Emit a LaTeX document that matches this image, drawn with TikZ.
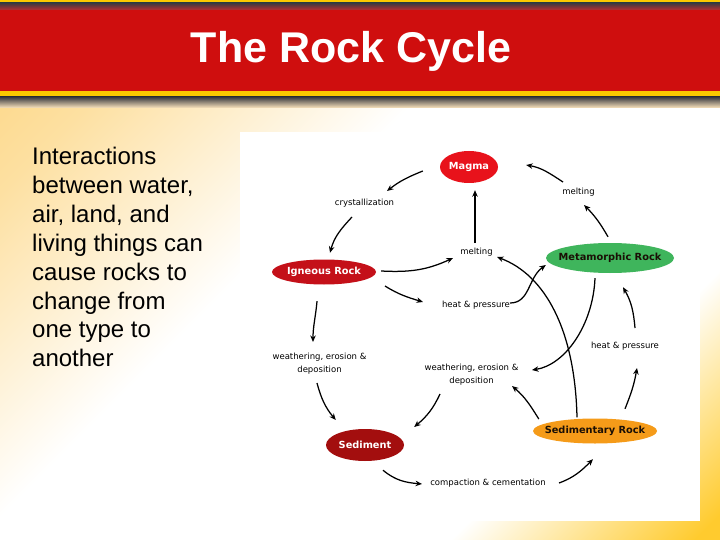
\documentclass[tikz,border=0pt]{standalone}
\usepackage{fontspec}
\setmainfont{Liberation Sans}
\newfontfamily\dvs{DejaVu Sans}
\usetikzlibrary{shapes.geometric,arrows.meta}
\definecolor{hdrred}{HTML}{CF0E0E}
\definecolor{hdrylw}{HTML}{FCC900}
\definecolor{hdrgray}{HTML}{3A3A40}
\definecolor{peach}{HTML}{FDE6BE}
\definecolor{bgtl}{HTML}{FCCB62}
\definecolor{bgbr}{HTML}{FFCB2E}
\definecolor{magmared}{HTML}{E8121B}
\definecolor{ignred}{HTML}{C41019}
\definecolor{metgreen}{HTML}{3FB55C}
\definecolor{sedred}{HTML}{A30E0E}
\definecolor{sryorange}{HTML}{F59B19}
\definecolor{darktxt}{HTML}{1A0F05}
\pgfdeclareverticalshading{bgshade}{100bp}{color(0bp)=(bgbr); color(16bp)=(bgbr); color(31bp)=(white); color(60bp)=(white); color(80bp)=(bgtl!60!white); color(100bp)=(bgtl)}
\begin{document}
\begin{tikzpicture}[x=1pt,y=1pt,
  arr/.style={line width=1.25pt,-{Stealth[length=6.5pt,width=5.5pt]}},
  rock/.style={ellipse,inner sep=0pt,font=\dvs\bfseries\fontsize{9.8}{11}\selectfont},
  lbl/.style={inner sep=0pt,font=\dvs\fontsize{8.5}{13}\selectfont,align=center},
  bodytxt/.style={anchor=base west,inner sep=0pt,font=\fontsize{24}{28}\selectfont}]
\useasboundingbox (0,0) rectangle (720,-540);
% background
\shade[shading=bgshade,shading angle=45] (0,-100) rectangle (720,-540);
% header
\fill[hdrylw] (0,0) rectangle (720,-3);
\shade[top color=hdrgray,bottom color=hdrred!70!gray] (0,-3) rectangle (720,-10);
\fill[hdrred] (0,-10) rectangle (720,-91);
\fill[hdrylw] (0,-91) rectangle (720,-97);
\shade[top color=hdrgray,bottom color=peach] (0,-97) rectangle (720,-108);
\node[font=\bfseries\fontsize{43}{50}\selectfont,text=white,anchor=base,inner sep=0pt] (title) at (351,-63) {The Rock Cycle};
% left text
\foreach \t [count=\i from 0] in {Interactions,{between water,},{air, land, and},living things can,cause rocks to,change from,one type to,another}
  \node[bodytxt] (txt\i) at (32,{-165-28.8*\i}) {\t};
% panel
\fill[white] (240,-132) rectangle (700,-521);
% rock nodes
\node[rock,fill=magmared,text=white,minimum width=58pt,minimum height=32pt] (mag) at (469,-167) {\makebox[0pt]{Magma}};
\node[rock,fill=ignred,text=white,minimum width=104pt,minimum height=25pt] (ign) at (324,-272) {\makebox[0pt]{Igneous Rock}};
\node[rock,fill=metgreen,text=darktxt,minimum width=128pt,minimum height=30pt] (met) at (610,-258) {\makebox[0pt]{Metamorphic Rock}};
\node[rock,fill=sedred,text=white,minimum width=78pt,minimum height=32pt] (sed) at (365,-445) {\makebox[0pt]{Sediment}};
\node[rock,fill=sryorange,text=darktxt,minimum width=124pt,minimum height=25pt] (sry) at (595,-431) {\makebox[0pt]{Sedimentary Rock}};
% process labels
\node[lbl] (cry) at (364.5,-202.7) {crystallization};
\node[lbl] (mlt1) at (578.5,-191.7) {melting};
\node[lbl] (mlt2) at (476.5,-251.7) {melting};
\node[lbl] (hp1) at (476,-304.7) {heat \& pressure};
\node[lbl] (hp2) at (625,-345.7) {heat \& pressure};
\node[lbl] (wed1) at (319.5,-364) {weathering, erosion \&\\deposition};
\node[lbl] (wed2) at (471.5,-375) {weathering, erosion \&\\deposition};
\node[lbl] (cmp) at (488,-483) {compaction \& cementation};
% connectors
\draw[arr] ([shift={(-17,-4)}]mag.west) to[out=202,in=38] ([shift={(22.5,11.7)}]cry.center);
\draw[arr] ([shift={(-12.5,-14.3)}]cry.center) to[out=227,in=75] ([shift={(6,6.5)}]ign.north);
\draw[arr] ([shift={(5,1)}]ign.east) to[out=-3,in=205] ([shift={(-23.5,-6.3)}]mlt2.center);
\draw[arr] ([shift={(61,-14)}]ign.center) to[out=-32,in=163] ([shift={(-53,2.7)}]hp1.center);
\draw[arr] ([shift={(-1.5,8.7)}]mlt2.center) -- ([shift={(6,-7)}]mag.south);
\draw[arr] ([shift={(-2,6)}]met.north) to[out=120,in=-45] ([shift={(5.5,-13.3)}]mlt1.center);
\draw[arr] ([shift={(-15.5,9.7)}]mlt1.center) to[out=147,in=-10] ([shift={(28,2)}]mag.east);
\draw[arr] ([shift={(34,1.7)}]hp1.center) .. controls +(20,0) and +(-18,-13) .. ([shift={(0,-7)}]met.west);
\draw[arr] ([shift={(-18,1)}]sry.north) .. controls +(-2,87.5) and +(48,-18) .. ([shift={(20.5,-5.3)}]mlt2.center);
\draw[arr] ([shift={(-15,-5)}]met.south) .. controls +(-2,-47) and +(33,5) .. ([shift={(60.5,5)}]wed2.center);
\draw[arr] ([shift={(30,9.5)}]sry.north) to[out=68,in=-100] ([shift={(12,-22.3)}]hp2.center);
\draw[arr] ([shift={(10,17.7)}]hp2.center) to[out=95,in=-60] ([shift={(13,-14)}]met.south);
\draw[arr] ([shift={(6,12)}]sry.west) to[out=122,in=-40] ([shift={(40.5,-11)}]wed2.center);
\draw[arr] ([shift={(-31.5,-19)}]wed2.center) to[out=245,in=40] ([shift={(10,18)}]sed.east);
\draw[arr] ([shift={(-7,-16.5)}]ign.south) to[out=265,in=90] ([shift={(-6.5,22)}]wed1.center);
\draw[arr] ([shift={(-2.5,-19)}]wed1.center) to[out=-75,in=130] ([shift={(10,25)}]sed.west);
\draw[arr] ([shift={(18,-9)}]sed.south) to[out=-40,in=175] ([shift={(-66,-1)}]cmp.center);
\draw[arr] ([shift={(71,0)}]cmp.center) to[out=20,in=225] ([shift={(-2,-15.5)}]sry.south);
\end{tikzpicture}
\end{document}
